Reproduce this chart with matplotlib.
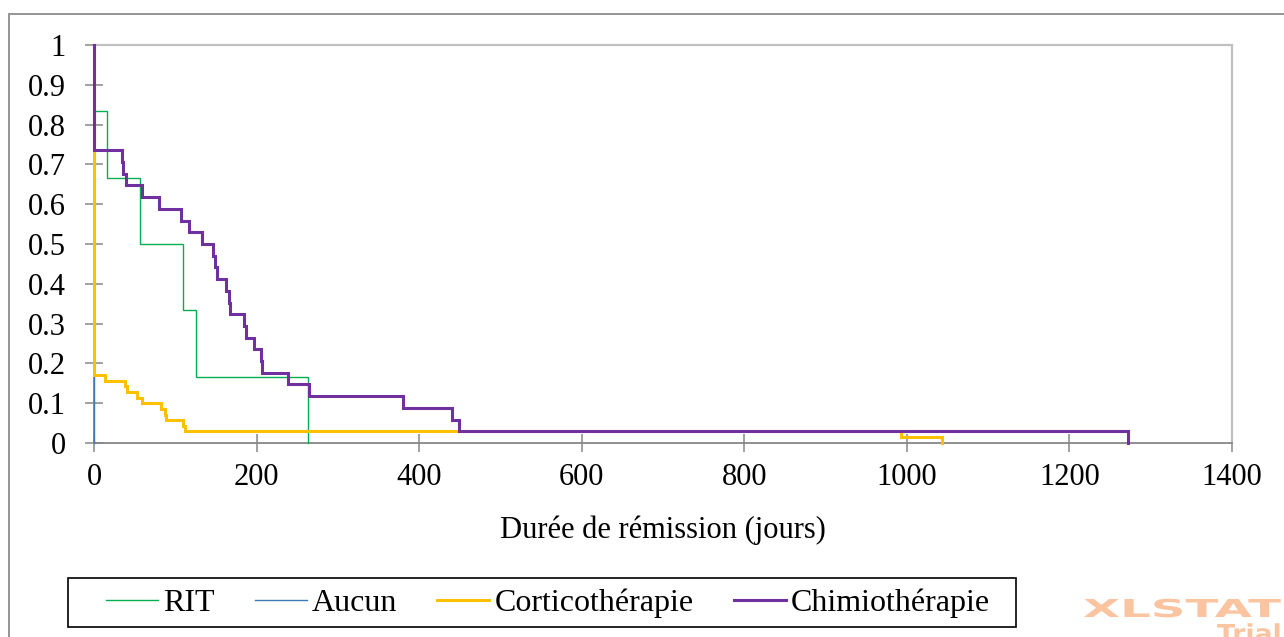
import matplotlib as mpl
import matplotlib.pyplot as plt
from matplotlib.patches import Rectangle, PathPatch
from matplotlib.textpath import TextPath
from matplotlib.font_manager import FontProperties
from matplotlib.transforms import Affine2D, IdentityTransform

mpl.rcParams['font.family'] = ['Liberation Serif', 'DejaVu Serif']
mpl.rcParams['font.size'] = 22

# Kaplan-Meier curves: time of each drop and survival after it
rit_t = [0, 0, 16, 56, 110, 125.5, 263]
rit_s = [1, 0.833, 0.667, 0.5, 0.333, 0.167, 0]

aucun_t = [0, 0]
aucun_s = [1, 0]

cortico_t = [0, 0, 13, 38, 40.5, 53, 59.5, 82, 87.5, 89, 110, 112, 993, 1043]
cortico_s = [1, 0.171, 0.157, 0.143, 0.129, 0.114, 0.1, 0.086, 0.071, 0.057,
             0.043, 0.029, 0.014, 0]

chimio_t = [0, 0, 34, 36, 39, 58.6, 80, 106.6, 116.5, 133, 146.5, 149, 151, 163,
            165.7, 167, 185, 187, 197, 205, 207, 239, 264.5, 380.5, 441, 449, 1272]
chimio_s = [1, 0.735, 0.706, 0.676, 0.647, 0.618, 0.588, 0.559, 0.529, 0.5, 0.471,
            0.441, 0.412, 0.382, 0.353, 0.324, 0.294, 0.265, 0.235, 0.206, 0.176,
            0.147, 0.118, 0.088, 0.059, 0.029, 0]

series = [
    ('RIT', rit_t, rit_s, '#00B050', 1.0),
    ('Aucun', aucun_t, aucun_s, '#3C78B4', 1.0),
    ('Corticothérapie', cortico_t, cortico_s, '#FFC000', 2.2),
    ('Chimiothérapie', chimio_t, chimio_s, '#7030A0', 2.2),
]

W, H = 1284, 637
fig = plt.figure(figsize=(W / 100, H / 100), dpi=100)
ax = fig.add_axes([94 / W, 1 - 443 / H, (1232 - 94) / W, (443 - 45) / H])

for name, t, s, col, lw in series:
    ax.plot(t, s, drawstyle='steps-post', color=col, lw=lw, label=name,
            solid_joinstyle='miter', zorder=3, clip_on=False)

ax.set_xlim(0, 1400)
ax.set_ylim(0, 1)
ax.set_xticks(range(0, 1401, 200))
ax.set_yticks([i / 10 for i in range(11)])
ax.set_yticklabels(['0', '0.1', '0.2', '0.3', '0.4', '0.5', '0.6', '0.7', '0.8', '0.9', '1'])
ax.tick_params(direction='inout', length=13, width=1.1, color='#868686', pad=8)
ax.tick_params(axis='y', pad=14)
for side in ['left', 'bottom']:
    ax.spines[side].set_color('#868686')
    ax.spines[side].set_linewidth(1.3)
for side in ['top', 'right']:
    ax.spines[side].set_color('#C0C0C0')
    ax.spines[side].set_linewidth(1.6)
ax.set_xlabel('Durée de rémission (jours)', labelpad=17)

# legend, with its own box drawn separately
leg = fig.legend(loc='center', bbox_to_anchor=(548 / W, 1 - 603 / H), ncol=4,
                 frameon=False, fontsize=23,
                 handlelength=1.63, handletextpad=0.16, columnspacing=1.25)
fig.patches.append(Rectangle((68 / W, 1 - 627 / H), (1016 - 68) / W, 49 / H,
                             transform=fig.transFigure, fill=False,
                             edgecolor='black', lw=1.2))

# outer chart border
fig.patches.append(Rectangle((9 / W, -0.1), 1.2, 1 - 14 / H + 0.1,
                             transform=fig.transFigure, fill=False,
                             edgecolor='#8C8C8C', lw=1.3))

# watermark (wide bold letters)
wm = FontProperties(family='DejaVu Sans', weight='bold')
for txt, size, sx, x0, base in [('XLSTAT', 24.7, 1.95, 1083, 617),
                                ('Trial', 24.7, 1.08, 1217, 642)]:
    tp = TextPath((0, 0), txt, size=size, prop=wm)
    tr = Affine2D().scale(sx, 1).translate(x0, H - base) + IdentityTransform()
    fig.patches.append(PathPatch(tp, transform=tr, facecolor='#FAC4A0',
                                 edgecolor='none'))

fig.savefig('out.png', dpi=100)
